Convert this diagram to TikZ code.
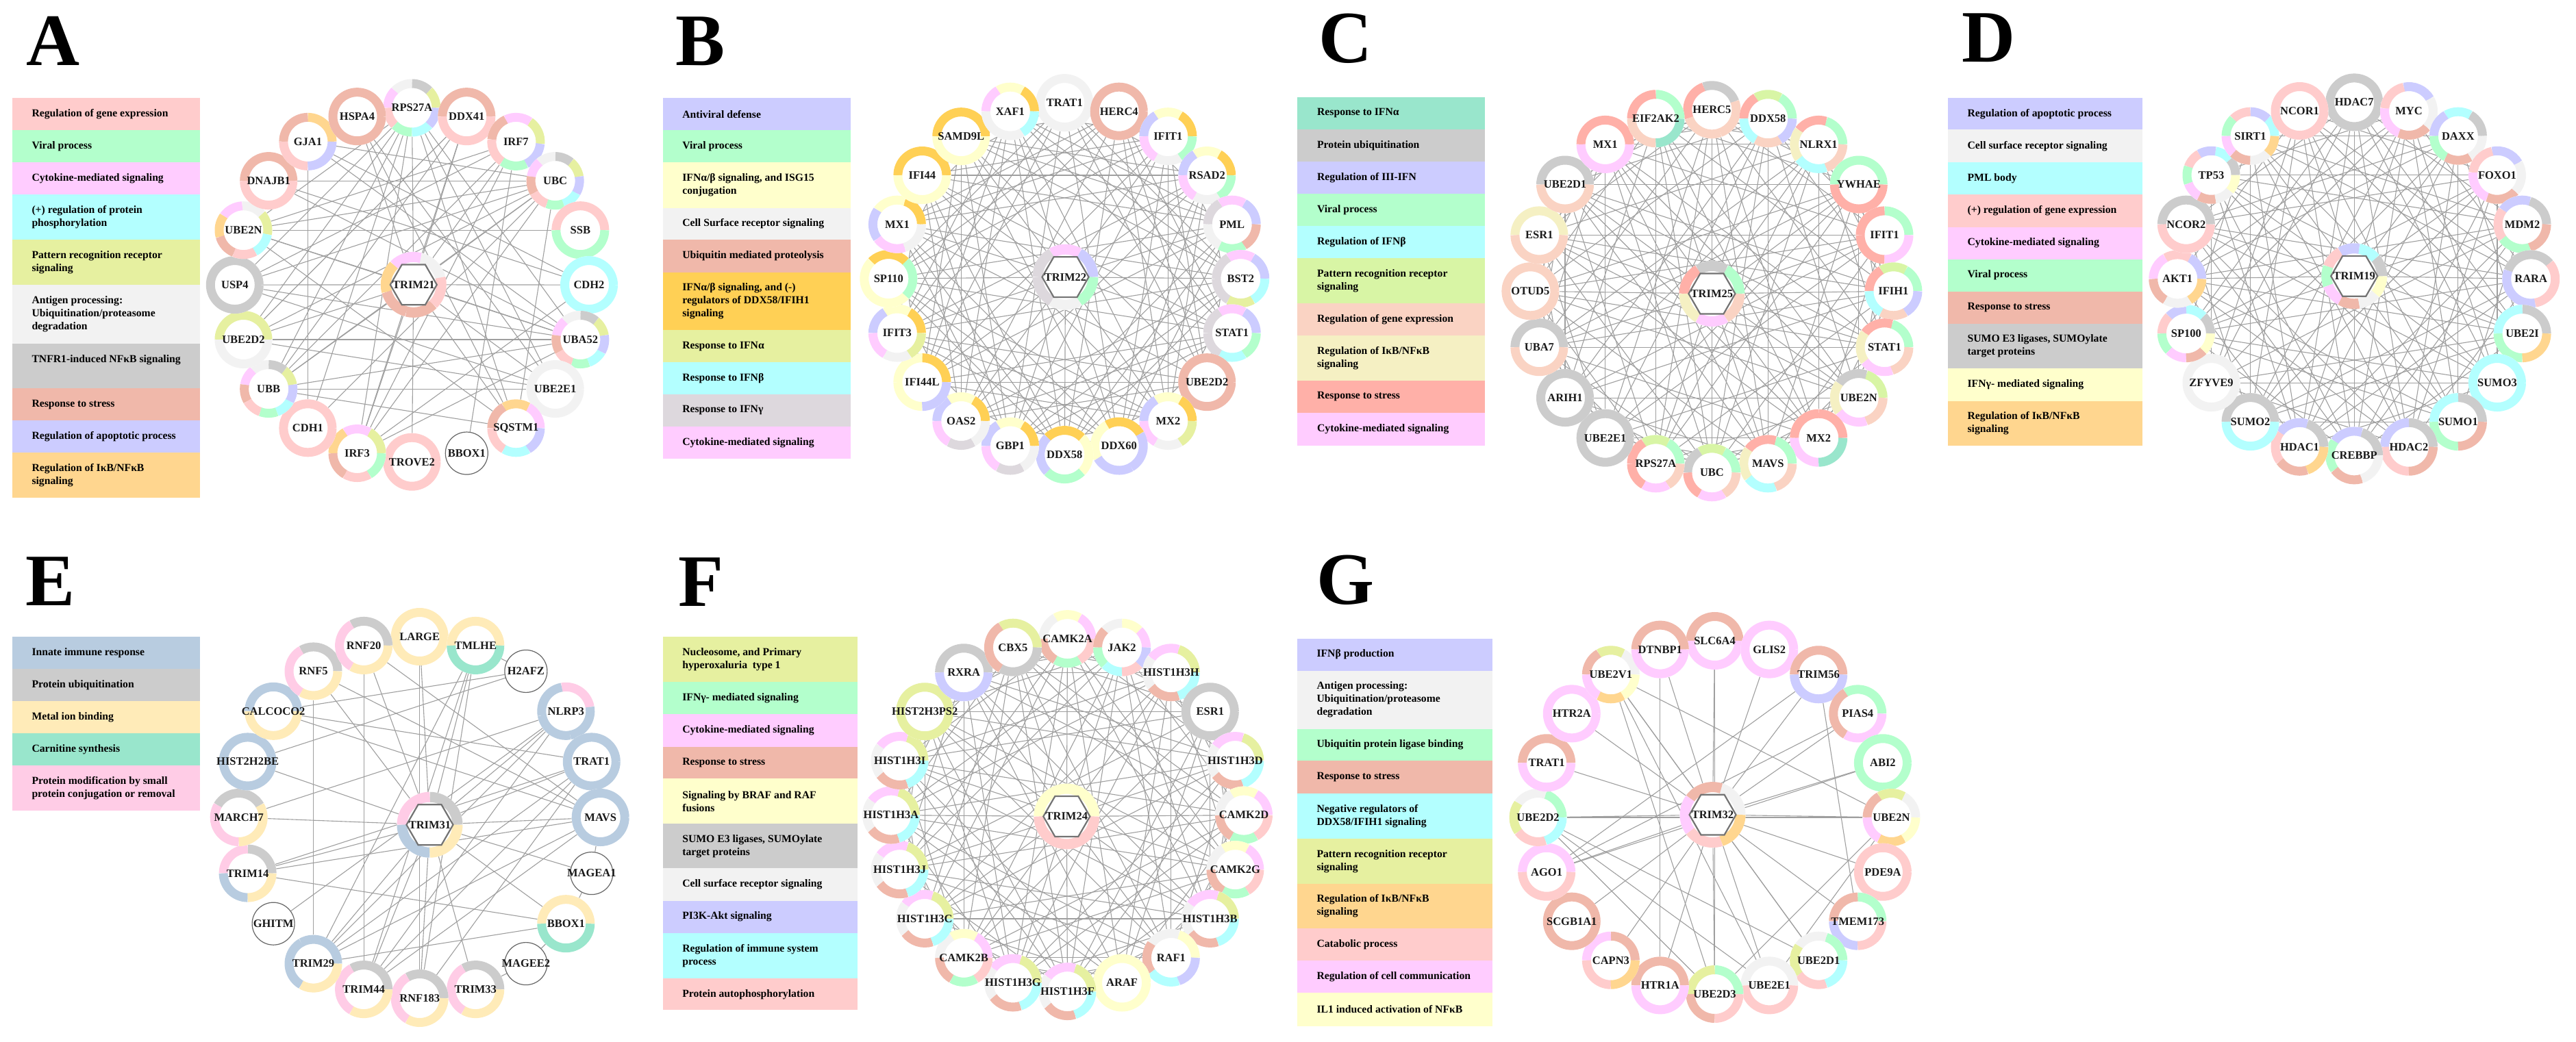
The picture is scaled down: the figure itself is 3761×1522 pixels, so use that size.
\documentclass[tikz,border=0pt]{standalone}
\usepackage{fontspec}
\setmainfont{Liberation Serif}
\usetikzlibrary{shapes.geometric}
\pgfdeclarelayer{bg}
\pgfsetlayers{bg,main}
\definecolor{cpk}{HTML}{FFCCCC}
\definecolor{cgr}{HTML}{B3FFCC}
\definecolor{cmg}{HTML}{FFCCFF}
\definecolor{ccy}{HTML}{B3FFFF}
\definecolor{clm}{HTML}{E6F0A0}
\definecolor{clg}{HTML}{F2F2F2}
\definecolor{cgy}{HTML}{CCCCCC}
\definecolor{csa}{HTML}{F0B8AA}
\definecolor{clv}{HTML}{CCCCFF}
\definecolor{cor}{HTML}{FFD68F}
\definecolor{cye}{HTML}{FFFFCC}
\definecolor{cgd}{HTML}{FFD055}
\definecolor{cig}{HTML}{DDD8DD}
\definecolor{ctl}{HTML}{99E6CC}
\definecolor{cpg}{HTML}{D8F5A5}
\definecolor{cpc}{HTML}{FAD3C3}
\definecolor{ccr}{HTML}{F5F0C3}
\definecolor{crd}{HTML}{FFB0A8}
\definecolor{cst}{HTML}{B8CCE0}
\definecolor{csd}{HTML}{FFEBB8}
\definecolor{cro}{HTML}{FFCCE6}
\tikzset{
  edge/.style={draw=gray!75, line width=1.1pt},
  gene/.style={circle, fill=white, minimum size=84pt, inner sep=0pt},
  hub/.style={circle, fill=white, minimum size=96pt, inner sep=0pt},
  plain/.style={circle, fill=white, draw=black!60, line width=1.2pt, minimum size=62pt, inner sep=0pt},
  lbl/.style={font=\fontsize{16.5}{18}\selectfont\bfseries, text=black!90, inner sep=0pt},
  hexa/.style={regular polygon, regular polygon sides=6, draw=black!55, line width=2.2pt, fill=white, minimum size=68pt, inner sep=0pt},
  legtext/.style={font=\fontsize{15.7}{19}\selectfont\bfseries, anchor=west, align=left, inner sep=0pt},
  panel/.style={font=\fontsize{108}{108}\selectfont\bfseries, anchor=base west, inner sep=0pt},
}
\newcommand\ringsegs[4]{%
  \foreach \colr [count=\nn] in {#4}{\xdef\nseg{\nn}}%
  \foreach \colr [count=\ii from 0] in {#4}{%
    \pgfmathsetmacro\segA{#3+\ii*360/\nseg}%
    \pgfmathsetmacro\segB{\segA+360/\nseg}%
    \draw[line width=\rw, draw=\colr] (#1.center) ++(\segA:#2) arc[start angle=\segA, end angle=\segB, radius=#2];%
  }%
}
\newcommand\setpanel[4]{\def\pfx{#1}\def\pcx{#2}\def\pcy{#3}\def\pR{#4}}
\newcommand\pn[4]{%
  \pgfmathsetmacro\angP{90-18*(#1-1)}%
  \node[gene] (\pfx#1) at ({\pcx+\pR*cos(\angP)},{\pcy-\pR*sin(\angP)}) {};%
  \def\rw{13pt}%
  \ringsegs{\pfx#1}{35.5pt}{#3}{#4}%
  \node[lbl] (\pfx#1t) at (\pfx#1.center) {#2};%
}
\newcommand\pp[2]{%
  \pgfmathsetmacro\angP{90-18*(#1-1)}%
  \node[plain] (\pfx#1) at ({\pcx+\pR*cos(\angP)},{\pcy-\pR*sin(\angP)}) {};%
  \node[lbl] (\pfx#1t) at (\pfx#1.center) {#2};%
}
\newcommand\hubnode[5]{%
  \node[hub] (\pfx0) at (#1,#2) {};%
  \def\rw{15pt}%
  \ringsegs{\pfx0}{40.5pt}{#4}{#5}%
  \node[hexa] (\pfx0h) at (\pfx0.center) {};%
  \node[lbl] (\pfx0t) at (\pfx0.center) {#3};%
}
\newcommand\circedges[1]{%
  \foreach \ii in {1,...,20}{\foreach \kk in {#1}{%
    \pgfmathtruncatemacro\jj{mod(\ii+\kk-1,20)+1}%
    \draw[edge] (\pfx\ii) -- (\pfx\jj);}}}
\newcommand\hubedges[1]{\foreach \ii in {#1}{\draw[edge] (\pfx0) -- (\pfx\ii);}}
\newcommand\pairedges[1]{\foreach \uu/\vv in {#1}{\draw[edge] (\pfx\uu) -- (\pfx\vv);}}
\newcommand\setleg[3]{\def\lxa{#1}\def\lxb{#2}\def\ltx{#3}}
\newcommand\lrow[5]{%
  \fill[#4] (\lxa,#2) rectangle (\lxb,#3);%
  \node[legtext] (#1) at (\ltx,{(#2+#3)/2}) {#5};%
}
\begin{document}
\begin{tikzpicture}[x=1pt,y=-1pt]
\useasboundingbox (0,0) rectangle (3761,1522);
\begin{pgfonlayer}{bg}
\fill[white] (0,0) rectangle (3761,1522);
\end{pgfonlayer}

% ---------------- Panel letters
\node[panel] (PA) at (38,95.5) {A};
\node[panel] (PB) at (986,95.5) {B};
\node[panel] (PC) at (1925,92) {C};
\node[panel] (PD) at (2864,91) {D};
\node[panel] (PE) at (37,884) {E};
\node[panel] (PF) at (990,885) {F};
\node[panel] (PG) at (1922,882) {G};

% ---------------- Legends
\setleg{17.8}{292.4}{46.3}
\lrow{LA1}{143.5}{190}{cpk}{Regulation of gene expression}
\lrow{LA2}{190}{237.5}{cgr}{Viral process}
\lrow{LA3}{237.5}{284.5}{cmg}{Cytokine-mediated signaling}
\lrow{LA4}{284.5}{350}{ccy}{(+) regulation of protein\\phosphorylation}
\lrow{LA5}{350}{415.9}{clm}{Pattern recognition receptor\\signaling}
\lrow{LA6}{415.9}{501.6}{clg}{Antigen processing:\\Ubiquitination/proteasome\\degradation}
\fill[cgy] (\lxa,501.6) rectangle (\lxb,567.1);
\node[legtext] (LA7) at (\ltx,525.9) {TNFR1-induced NFκB signaling};
\lrow{LA8}{567.1}{614.1}{csa}{Response to stress}
\lrow{LA9}{614.1}{661.1}{clv}{Regulation of apoptotic process}
\lrow{LA10}{661.1}{727.1}{cor}{Regulation of IκB/NFκB\\signaling}

\setleg{968}{1242}{996.1}
\lrow{LB1}{143.5}{190}{clv}{Antiviral defense}
\lrow{LB2}{190}{237.5}{cgr}{Viral process}
\lrow{LB3}{237.5}{303.9}{cye}{IFNα/β signaling, and ISG15\\conjugation}
\lrow{LB4}{303.9}{350.4}{clg}{Cell Surface receptor signaling}
\lrow{LB5}{350.4}{397.5}{csa}{Ubiquitin mediated proteolysis}
\lrow{LB6}{397.5}{482.3}{cgd}{IFNα/β signaling, and (-)\\regulators of DDX58/IFIH1\\signaling}
\lrow{LB7}{482.3}{529.3}{clm}{Response to IFNα}
\lrow{LB8}{529.3}{575.8}{ccy}{Response to IFNβ}
\lrow{LB9}{575.8}{622.8}{cig}{Response to IFNγ}
\lrow{LB10}{622.8}{670.3}{cmg}{Cytokine-mediated signaling}

\setleg{1894.4}{2168.4}{1922.9}
\lrow{LC1}{142}{189}{ctl}{Response to IFNα}
\lrow{LC2}{189}{236}{cgy}{Protein ubiquitination}
\lrow{LC3}{236}{283.1}{clv}{Regulation of III-IFN}
\lrow{LC4}{283.1}{330.1}{cgr}{Viral process}
\lrow{LC5}{330.1}{377.1}{ccy}{Regulation of IFNβ}
\lrow{LC6}{377.1}{443}{cpg}{Pattern recognition receptor\\signaling}
\lrow{LC7}{443}{490}{cpc}{Regulation of gene expression}
\lrow{LC8}{490}{556}{ccr}{Regulation of IκB/NFκB\\signaling}
\lrow{LC9}{556}{603}{crd}{Response to stress}
\lrow{LC10}{603}{650.5}{cmg}{Cytokine-mediated signaling}

\setleg{2843.9}{3127.5}{2872.4}
\lrow{LD1}{143}{189.5}{clv}{Regulation of apoptotic process}
\lrow{LD2}{189.5}{237}{clg}{Cell surface receptor signaling}
\lrow{LD3}{237}{284}{ccy}{PML body}
\lrow{LD4}{284}{331.5}{cpk}{(+) regulation of gene expression}
\lrow{LD5}{331.5}{378.5}{cmg}{Cytokine-mediated signaling}
\lrow{LD6}{378.5}{425.6}{cgr}{Viral process}
\lrow{LD7}{425.6}{472.6}{csa}{Response to stress}
\lrow{LD8}{472.6}{538}{cgy}{SUMO E3 ligases, SUMOylate\\target proteins}
\lrow{LD9}{538}{585.5}{cye}{IFNγ- mediated signaling}
\lrow{LD10}{585.5}{651}{cor}{Regulation of IκB/NFκB\\signaling}

\setleg{17.8}{292.4}{46.3}
\lrow{LE1}{930.1}{976.8}{cst}{Innate immune response}
\lrow{LE2}{976.8}{1023.9}{cgy}{Protein ubiquitination}
\lrow{LE3}{1023.9}{1071}{csd}{Metal ion binding}
\lrow{LE4}{1071}{1118.2}{ctl}{Carnitine synthesis}
\lrow{LE5}{1118.2}{1184.3}{cro}{Protein modification by small\\protein conjugation or removal}

\setleg{968}{1251.5}{996.1}
\lrow{LF1}{930.1}{996.2}{clm}{Nucleosome, and Primary\\hyperoxaluria\ \ type 1}
\lrow{LF2}{996.2}{1042.9}{cgr}{IFNγ- mediated signaling}
\lrow{LF3}{1042.9}{1090.5}{cmg}{Cytokine-mediated signaling}
\lrow{LF4}{1090.5}{1137.1}{csa}{Response to stress}
\lrow{LF5}{1137.1}{1203.2}{cye}{Signaling by BRAF and RAF\\fusions}
\lrow{LF6}{1203.2}{1268.4}{cgy}{SUMO E3 ligases, SUMOylate\\target proteins}
\lrow{LF7}{1268.4}{1315.5}{clg}{Cell surface receptor signaling}
\lrow{LF8}{1315.5}{1362.6}{clv}{PI3K-Akt signaling}
\lrow{LF9}{1362.6}{1429.2}{ccy}{Regulation of immune system\\process}
\lrow{LF10}{1429.2}{1475.4}{cpk}{Protein autophosphorylation}

\setleg{1893.8}{2178.5}{1922.3}
\lrow{LG1}{932.5}{979.7}{clv}{IFNβ production}
\lrow{LG2}{979.7}{1064.7}{clg}{Antigen processing:\\Ubiquitination/proteasome\\degradation}
\lrow{LG3}{1064.7}{1111.4}{cgr}{Ubiquitin protein ligase binding}
\lrow{LG4}{1111.4}{1158.5}{csa}{Response to stress}
\lrow{LG5}{1158.5}{1225.1}{ccy}{Negative regulators of\\DDX58/IFIH1 signaling}
\lrow{LG6}{1225.1}{1290.7}{clm}{Pattern recognition receptor\\signaling}
\lrow{LG7}{1290.7}{1356.3}{cor}{Regulation of IκB/NFκB\\signaling}
\lrow{LG8}{1356.3}{1403}{cpk}{Catabolic process}
\lrow{LG9}{1403}{1450.1}{cmg}{Regulation of cell communication}
\lrow{LG10}{1450.1}{1498.7}{cye}{IL1 induced activation of NFκB}

% ---------------- Panel A network
\setpanel{A}{601.4}{416.1}{258.6}
\hubnode{603.8}{415.9}{TRIM21}{15}{clg,cmg,cor,csa,csa,cpk}
\pn{1}{RPS27A}{0}{clm,cgy,clg,cmg,cpk,cgr,ccy,clv}
\pn{2}{DDX41}{0}{csa,cpk}
\pn{3}{IRF7}{-5}{clm,cmg,csa,cpk,cgr,clv}
\pn{4}{UBC}{10}{clm,cgy,clg,cmg,csa,cpk,cgr,ccy,clv}
\pn{5}{SSB}{0}{cpk,cgr}
\pn{6}{CDH2}{0}{ccy}
\pn{7}{UBA52}{10}{clm,cgy,clg,cmg,csa,cpk,cgr,ccy,clv}
\pn{8}{UBE2E1}{0}{clg}
\pn{9}{SQSTM1}{0}{cmg,cor,csa,cpk,ccy,clv}
\pp{10}{BBOX1}
\pn{11}{TROVE2}{0}{cpk}
\pn{12}{IRF3}{0}{clm,cmg,cor,csa,cpk,cgr}
\pn{13}{CDH1}{0}{cpk}
\pn{14}{UBB}{10}{clm,cgy,clg,cmg,csa,cpk,cgr,ccy,clv}
\pn{15}{UBE2D2}{0}{clm,clg}
\pn{16}{USP4}{0}{cgy}
\pn{17}{UBE2N}{-10}{clm,clg,cmg,cor,csa,cpk,ccy}
\pn{18}{DNAJB1}{0}{csa,cpk}
\pn{19}{GJA1}{0}{cor,csa,cpk,clv}
\pn{20}{HSPA4}{0}{csa}
\begin{pgfonlayer}{bg}
\hubedges{1,2,3,4,6,7,8,9,11,12,14,15,16,17,20}
\pairedges{1/14,1/17,1/15,1/9,1/12,1/8,1/13,1/7,1/16,4/17,4/15,4/16,4/14,4/12,4/18,4/19,4/9,4/13,14/7,14/3,14/2,14/9,14/8,7/17,7/15,7/16,7/18,7/19,7/12,3/12,3/17,3/16,3/10,2/12,2/15,20/9,20/8,19/13,19/6,18/6,5/17,17/9,16/8,15/8,12/6}
\end{pgfonlayer}

% ---------------- Panel B network
\setpanel{B}{1554.3}{407.1}{257}
\hubnode{1555.5}{404.7}{TRIM22}{0}{clv,cmg,cig,cig,clg,cgr}
\pn{1}{TRAT1}{0}{clg}
\pn{2}{HERC4}{0}{csa}
\pn{3}{IFIT1}{0}{cgd,cye,clv,cmg,clg,cgr}
\pn{4}{RSAD2}{0}{cgd,cye,clv,cmg,clg,cgr}
\pn{5}{PML}{0}{clv,cmg,cig,clg,cgr,csa}
\pn{6}{BST2}{0}{clv,cmg,cig,cig,clm,ccy}
\pn{7}{STAT1}{0}{clv,cmg,cig,cig,ccy,cgr}
\pn{8}{UBE2D2}{0}{csa}
\pn{9}{MX2}{0}{cgd,cye,clv,cmg,clg,clm}
\pn{10}{DDX60}{30}{cgd,cye,clv,clv}
\pn{11}{DDX58}{-45}{cye,cgd,clv,cgr}
\pn{12}{GBP1}{0}{cgd,cye,clv,cmg,cig,clg}
\pn{13}{OAS2}{0}{cgd,cye,clv,cmg,cig,clg}
\pn{14}{IFI44L}{0}{cgd,cye,cye,clv}
\pn{15}{IFIT3}{0}{cgd,cye,clv,cmg,clg,clm}
\pn{16}{SP110}{45}{cgd,cye,cye,cgr}
\pn{17}{MX1}{0}{cgd,cye,clv,cmg,clg}
\pn{18}{IFI44}{0}{cgd,cye}
\pn{19}{SAMD9L}{0}{cgd,cye}
\pn{20}{XAF1}{0}{cgd,cye,cmg,clg,clg,ccy}
\begin{pgfonlayer}{bg}
\hubedges{3,4,5,6,7,9,10,11,12,13,14,15,16,17,18,19,20}
\circedges{2,3,5,6,7,9}
\end{pgfonlayer}

% ---------------- Panel C network
\setpanel{C}{2499.4}{425.3}{265}
\hubnode{2499.4}{429}{TRIM25}{0}{cgr,cgy,crd,ccr,cmg,cpc}
\pn{1}{HERC5}{20}{cgy,crd,cpc,cpc}
\pn{2}{DDX58}{0}{cgr,cpg,crd,ccy,cpc,clv}
\pn{3}{NLRX1}{0}{cgr,crd,ccr,ccy,cpc}
\pn{4}{YWHAE}{0}{cgr,crd}
\pn{5}{IFIT1}{0}{cgr,crd,crd,cmg}
\pn{6}{IFIH1}{0}{cgr,cpg,crd,ccy,cpc,clv}
\pn{7}{STAT1}{0}{cgr,crd,ccr,cmg,cpc}
\pn{8}{UBE2N}{0}{cpg,cgy,ccr,cmg,cpc}
\pn{9}{MX2}{0}{crd,crd,cmg,ctl}
\pn{10}{MAVS}{0}{cgr,crd,ccr,ccy,cpc}
\pn{11}{UBC}{0}{cgr,cpg,cgy,crd,cmg,cpc}
\pn{12}{RPS27A}{0}{cgr,cpg,crd,crd,cmg,cpc}
\pn{13}{UBE2E1}{0}{cgy}
\pn{14}{ARIH1}{0}{cgy}
\pn{15}{UBA7}{0}{cgy,cpc}
\pn{16}{OTUD5}{0}{cpc}
\pn{17}{ESR1}{0}{ccr,cpc}
\pn{18}{UBE2D1}{0}{cgy,cpc}
\pn{19}{MX1}{0}{crd,cmg}
\pn{20}{EIF2AK2}{0}{cgr,crd,cpc,ctl}
\begin{pgfonlayer}{bg}
\hubedges{1,2,3,4,5,6,7,8,9,10,11,12,15,16,17,18,19,20}
\circedges{3,4,6,8,9}
\end{pgfonlayer}

% ---------------- Panel D network
\setpanel{D}{3437.2}{407.4}{258}
\hubnode{3437.2}{403.3}{TRIM19}{-40}{cye,cgy,ccy,clv,cpk,cgr,cmg,csa,clg}
\pn{1}{HDAC7}{0}{cgy}
\pn{2}{MYC}{30}{clv,cpk,cmg,csa,clg}
\pn{3}{DAXX}{0}{cgy,ccy,clv,cgr,csa,clg}
\pn{4}{FOXO1}{30}{clv,cpk,cmg,csa,clg}
\pn{5}{MDM2}{0}{cgy,clv,cpk,cgr,csa}
\pn{6}{RARA}{40}{cgy,clv,cpk}
\pn{7}{UBE2I}{0}{cgy,ccy,cgr,cor}
\pn{8}{SUMO3}{0}{ccy}
\pn{9}{SUMO1}{0}{cgy,ccy,cgr,csa}
\pn{10}{HDAC2}{0}{cgy,clv,cpk,csa}
\pn{11}{CREBBP}{0}{cgy,clv,cgr,csa,clg}
\pn{12}{HDAC1}{0}{cgy,clv,cpk,csa,cor}
\pn{13}{SUMO2}{0}{cgy,ccy}
\pn{14}{ZFYVE9}{0}{clg}
\pn{15}{SP100}{0}{cgy,ccy,clv,cpk,cgr,cmg,csa,cye}
\pn{16}{AKT1}{0}{clv,cpk,cmg,csa,clg,cor}
\pn{17}{NCOR2}{0}{cgy,cpk}
\pn{18}{TP53}{0}{cgy,ccy,clv,cpk,cgr,cmg,csa,clg,cye}
\pn{19}{SIRT1}{0}{ccy,clv,cpk,cgr,cmg,csa,clg,cor}
\pn{20}{NCOR1}{0}{cpk}
\begin{pgfonlayer}{bg}
\hubedges{1,2,3,4,5,6,7,8,9,10,11,12,13,15,16,17,18,19,20}
\circedges{4,6,7,9}
\end{pgfonlayer}

% ---------------- Panel E network
\setpanel{E}{612.7}{1194}{264}
\hubnode{627.5}{1204.7}{TRIM31}{0}{cgy,cro,cst,csd}
\pn{1}{LARGE}{0}{csd}
\pn{2}{TMLHE}{0}{csd,ctl}
\pp{3}{H2AFZ}
\pn{4}{NLRP3}{10}{cro,cst,cst,cst}
\pn{5}{TRAT1}{0}{cst}
\pn{6}{MAVS}{0}{cst}
\pp{7}{MAGEA1}
\pn{8}{BBOX1}{0}{csd,ctl}
\pp{9}{MAGEE2}
\pn{10}{TRIM33}{0}{cgy,cro,csd}
\pn{11}{RNF183}{0}{cgy,cro,csd}
\pn{12}{TRIM44}{0}{cgy,cro,csd}
\pn{13}{TRIM29}{0}{cst,cst,csd}
\pp{14}{GHITM}
\pn{15}{TRIM14}{0}{cgy,cro,cst,csd}
\pn{16}{MARCH7}{30}{cgy,cro,csd}
\pn{17}{HIST2H2BE}{0}{cst}
\pn{18}{CALCOCO2}{0}{cst,csd}
\pn{19}{RNF5}{0}{cgy,cro,csd}
\pn{20}{RNF20}{0}{cgy,cro,csd}
\begin{pgfonlayer}{bg}
\hubedges{1,2,4,5,6,7,8,10,11,12,13,15,16,17,19,20}
\pairedges{5/15,5/13,5/12,5/11,5/18,6/15,6/19,6/20,6/13,6/12,6/18,4/16,4/12,4/13,3/17,3/18,3/2,2/12,2/11,2/13,8/15,8/13,8/7,7/6,19/13,14/4,9/8,20/12,1/11,9/10}
\end{pgfonlayer}

% ---------------- Panel F network
\setpanel{F}{1558.5}{1190.6}{257.5}
\hubnode{1557.3}{1192.5}{TRIM24}{0}{cye,cpk}
\pn{1}{CAMK2A}{0}{cmg,cye,clg,csa,cgr,cpk}
\pn{2}{JAK2}{0}{cmg,cye,clg,csa,cgr,ccy,cpk,clv}
\pn{3}{HIST1H3H}{0}{clm,cmg,clg,csa,ccy}
\pn{4}{ESR1}{0}{cgy}
\pn{5}{HIST1H3D}{0}{clm,cmg,clg,csa,ccy}
\pn{6}{CAMK2D}{0}{cmg,cye,clg,csa,cgr,cpk}
\pn{7}{CAMK2G}{0}{cmg,cye,clg,csa,cgr,cpk}
\pn{8}{HIST1H3B}{0}{clm,cmg,clg,csa,ccy}
\pn{9}{RAF1}{0}{cye,clg,csa,ccy,clv}
\pn{10}{ARAF}{0}{cye}
\pn{11}{HIST1H3F}{0}{clm,cmg,clg,csa,ccy}
\pn{12}{HIST1H3G}{0}{clm,cmg,clg,csa,ccy}
\pn{13}{CAMK2B}{0}{cmg,cye,clg,csa,cgr,cpk}
\pn{14}{HIST1H3C}{0}{clm,cmg,clg,csa,ccy}
\pn{15}{HIST1H3J}{0}{clm,cmg,clg,csa,ccy}
\pn{16}{HIST1H3A}{0}{clm,cmg,clg,csa,ccy}
\pn{17}{HIST1H3I}{0}{clm,cmg,clg,csa,ccy}
\pn{18}{HIST2H3PS2}{0}{clm}
\pn{19}{RXRA}{0}{cgy,clv}
\pn{20}{CBX5}{0}{clm,csa,cgy}
\begin{pgfonlayer}{bg}
\hubedges{1,2,3,5,6,7,8,9,11,12,13,14,15,16,17,18,19,20}
\circedges{3,4,6,7,9}
\end{pgfonlayer}

% ---------------- Panel G network
\setpanel{G}{2503.5}{1194}{258}
\hubnode{2500.5}{1190.1}{TRIM32}{0}{clg,csa,cmg,cpk,cor}
\pn{1}{SLC6A4}{0}{csa,cmg}
\pn{2}{GLIS2}{0}{cmg}
\pn{3}{TRIM56}{0}{csa,clv}
\pn{4}{PIAS4}{0}{cgr,csa,cmg}
\pn{5}{ABI2}{0}{cgr}
\pn{6}{UBE2N}{0}{clg,clm,csa,cmg,cor,cye}
\pn{7}{PDE9A}{0}{cpk}
\pn{8}{TMEM173}{0}{cgr,csa,clv,cpk}
\pn{9}{UBE2D1}{0}{cgr,clg,clm,cpk,ccy}
\pn{10}{UBE2E1}{0}{clg,cpk}
\pn{11}{UBE2D3}{0}{cgr,clm,csa,cpk}
\pn{12}{HTR1A}{0}{csa,cmg}
\pn{13}{CAPN3}{0}{csa,cmg,cpk,cor}
\pn{14}{SCGB1A1}{0}{csa}
\pn{15}{AGO1}{0}{cmg,cpk}
\pn{16}{UBE2D2}{0}{cgr,clg,clm,cpk,ccy}
\pn{17}{TRAT1}{0}{csa,cmg}
\pn{18}{HTR2A}{0}{cmg}
\pn{19}{UBE2V1}{0}{clg,clm,csa,cmg,cor,cye}
\pn{20}{DTNBP1}{0}{csa,cmg}
\begin{pgfonlayer}{bg}
\hubedges{1,2,3,4,5,6,7,8,9,10,11,12,13,14,15,16,17,18,19,20}
\pairedges{19/6,19/11,19/10,19/9,16/6,16/9,16/10,16/11,3/15,3/8,6/10,6/11,15/5,4/15,20/12,1/11}
\end{pgfonlayer}
\end{tikzpicture}
\end{document}
